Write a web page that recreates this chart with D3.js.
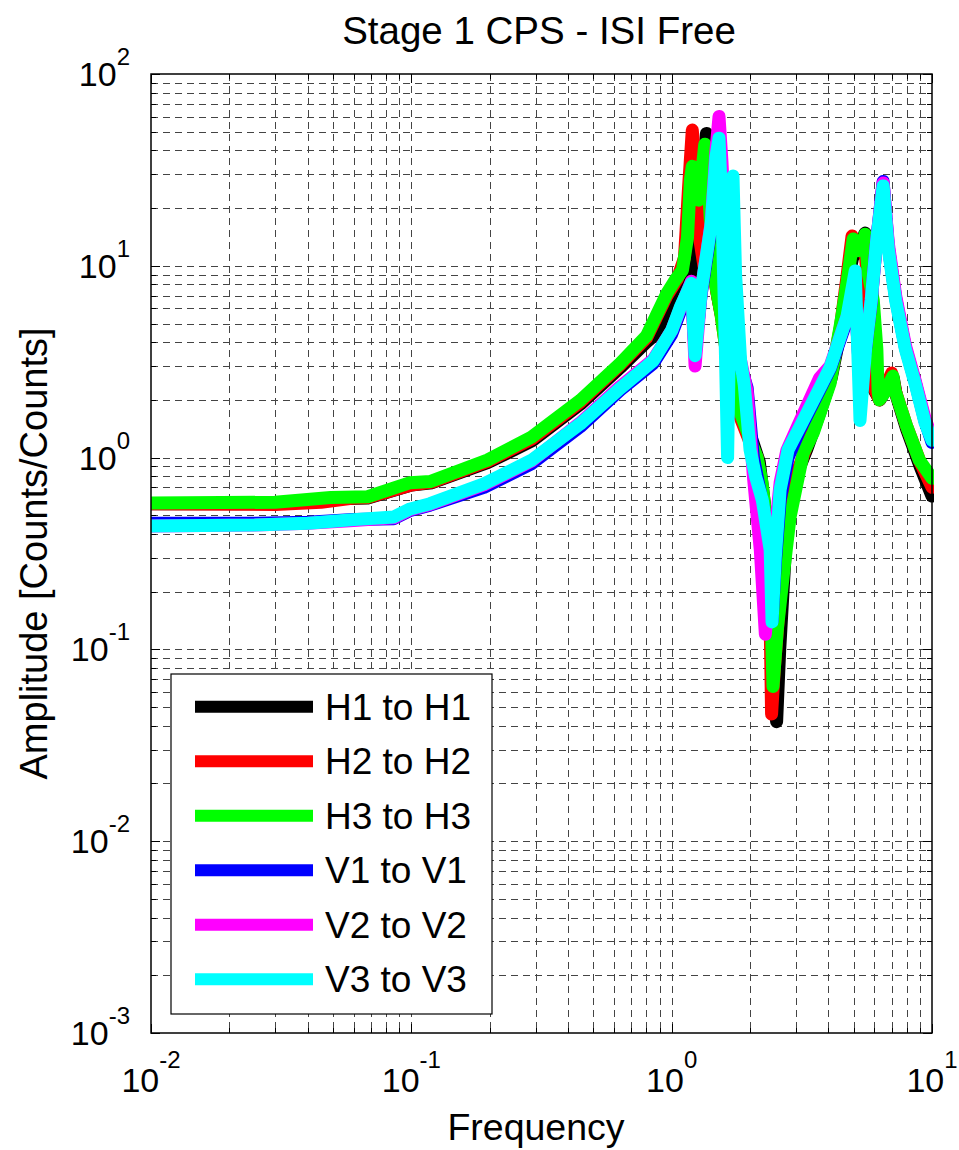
<!DOCTYPE html>
<html>
<meta charset="utf-8">
<head>
  <script src="https://d3js.org/d3.v7.min.js"></script>
  <style>

  body { margin: 0; background: #fff; }
  svg text { font-family: "Liberation Sans", Arial, Helvetica, sans-serif; fill: #000; }
  .grid line { stroke: #444; stroke-width: 1; stroke-dasharray: 7,5; shape-rendering: crispEdges; }
  .ticks line { stroke: #000; stroke-width: 1; shape-rendering: crispEdges; }
  .frame { fill: none; stroke: #000; stroke-width: 1.5; }
  .curve { fill: none; stroke-width: 13; stroke-linejoin: round; stroke-linecap: round; }
  .legend rect { fill: #fff; stroke: #000; stroke-width: 1.2; }

  </style>
</head>
<body>
<div id="chart"></div>

<script>

var title = "Stage 1 CPS - ISI Free",
    xLabel = "Frequency",
    yLabel = "Amplitude [Counts/Counts]";

// tick labels are 10^exp
var xTickExp = [-2, -1, 0, 1];
var yTickExp = [-3, -2, -1, 0, 1, 2];

var seriesNames = ["H1 to H1", "H2 to H2", "H3 to H3", "V1 to V1", "V2 to V2", "V3 to V3"];
var seriesColors = ["#000000", "#ff0000", "#00ff00", "#0000ff", "#ff00ff", "#00ffff"];

/* [frequency, amplitude] */
var h1 = [[0.01,0.575],[0.03,0.575],[0.05,0.61],[0.068,0.615],[0.1,0.72],[0.12,0.74],[0.196,0.94],[0.29,1.22],
  [0.446,1.9],[0.635,2.95],[0.8,4.0],[0.9,4.6],[0.98,6.3],[1.05,7.3],[1.15,8.3],[1.22,9.5],[1.28,16],[1.32,30],
  [1.36,49],[1.4,30],[1.45,10],[1.5,7],[1.6,4.5],[1.75,2.3],[1.9,1.6],[2.05,1.2],[2.17,0.95],[2.3,0.5],[2.42,0.18],
  [2.53,0.042],[2.6,0.1],[2.77,0.45],[3.0,0.8],[3.3,1.1],[3.7,1.7],[4.1,2.6],[4.45,4.5],[4.7,7.5],[4.95,11],
  [5.2,12],[5.53,14.8],[5.7,7],[5.8,3.5],[5.95,2.3],[6.3,2.0],[6.7,2.3],[7.1,2.6],[7.3,2.1],[8.0,1.4],[9.0,0.9],[10,0.63]];

var h2 = [[0.01,0.575],[0.03,0.57],[0.045,0.585],[0.06,0.615],[0.068,0.62],[0.1,0.72],[0.12,0.745],[0.196,0.955],
  [0.29,1.25],[0.446,1.95],[0.635,3.05],[0.8,4.2],[0.96,7.0],[1.05,8.5],[1.12,11],[1.16,25],[1.2,51],[1.24,30],
  [1.28,14],[1.33,10],[1.4,9],[1.47,8.1],[1.55,5.5],[1.65,3.0],[1.84,1.6],[2.0,1.2],[2.13,1.0],[2.22,0.72],
  [2.32,0.4],[2.38,0.2],[2.42,0.046],[2.48,0.08],[2.6,0.18],[2.77,0.45],[3.0,0.8],[3.3,1.15],[3.7,1.8],[4.1,2.7],
  [4.45,4.8],[4.7,8.5],[4.93,14.3],[5.1,12.5],[5.3,12.5],[5.5,13.5],[5.7,7],[5.85,3.8],[6.0,2.3],[6.28,2.0],
  [6.6,2.3],[7.0,2.76],[7.25,2.2],[8.0,1.45],[9.0,0.95],[10,0.7]];

var h3 = [[0.01,0.58],[0.03,0.585],[0.049,0.62],[0.068,0.625],[0.099,0.74],[0.118,0.75],[0.196,0.97],[0.29,1.28],
  [0.446,1.99],[0.635,3.1],[0.8,4.3],[0.96,7.2],[1.03,8.4],[1.1,9.5],[1.15,14],[1.18,28],[1.2,33],[1.23,24],
  [1.27,22],[1.31,32],[1.34,43],[1.38,28],[1.43,12],[1.47,8.2],[1.55,5.5],[1.65,3.0],[1.84,1.7],[2.0,1.25],
  [2.13,1.0],[2.22,0.75],[2.33,0.42],[2.4,0.2],[2.45,0.064],[2.55,0.13],[2.68,0.24],[2.85,0.49],[3.2,1.05],
  [3.5,1.35],[4.06,2.44],[4.5,5.4],[4.71,8.1],[4.98,13.8],[5.2,12],[5.35,12.5],[5.53,14.6],[5.7,9],[5.95,6.6],
  [6.14,3.67],[6.21,2.2],[6.28,2.0],[6.6,2.2],[7.08,2.66],[7.2,2.25],[8.0,1.45],[8.94,0.97],[10,0.78]];

var v1 = [[0.01,0.455],[0.025,0.455],[0.04,0.46],[0.06,0.475],[0.0855,0.48],[0.099,0.53],[0.118,0.565],[0.19,0.7],
  [0.29,0.93],[0.446,1.45],[0.635,2.25],[0.85,3.1],[1.0,4.4],[1.08,5.8],[1.19,7.6],[1.23,3.6],[1.3,7.2],[1.42,16],
  [1.48,35],[1.52,45],[1.56,20],[1.62,8],[1.7,4.8],[1.84,3.0],[1.95,2.3],[2.06,1.0],[2.22,0.6],[2.39,0.33],
  [2.43,0.14],[2.5,0.28],[2.61,0.6],[2.8,1.0],[3.11,1.4],[3.7,2.25],[4.06,2.9],[4.71,5.2],[5.07,7],[5.29,2.5],
  [5.56,3.7],[5.84,6.5],[6.13,13.5],[6.49,27.5],[6.8,12.5],[7.25,6.8],[7.9,3.75],[8.6,2.5],[9.4,1.55],[10,1.2]];

var v2 = [[0.01,0.44],[0.025,0.445],[0.04,0.455],[0.06,0.47],[0.0855,0.485],[0.099,0.535],[0.118,0.57],[0.19,0.72],
  [0.29,0.96],[0.446,1.52],[0.635,2.35],[0.85,3.25],[1.0,4.6],[1.08,6.0],[1.19,8.3],[1.23,3.0],[1.3,7.5],[1.42,17],
  [1.48,40],[1.52,60],[1.56,35],[1.62,12],[1.7,5.5],[1.84,3.2],[1.95,2.2],[2.06,0.8],[2.19,0.33],[2.29,0.12],
  [2.44,0.3],[2.61,0.74],[2.77,1.09],[3.11,1.55],[3.7,2.6],[4.06,3.0],[4.71,5.4],[5.07,7],[5.29,2.5],[5.56,3.8],
  [5.84,6.6],[6.13,13.5],[6.49,27],[6.8,13],[7.25,7],[7.9,3.85],[8.6,2.55],[9.4,1.6],[10,1.27]];

var v3 = [[0.01,0.44],[0.025,0.445],[0.04,0.455],[0.06,0.475],[0.0855,0.49],[0.099,0.54],[0.118,0.575],[0.19,0.73],
  [0.29,0.97],[0.446,1.5],[0.635,2.3],[0.85,3.2],[1.0,4.6],[1.08,6.1],[1.19,8.1],[1.23,3.4],[1.3,7.5],[1.42,16.7],
  [1.48,37],[1.52,46.3],[1.56,20],[1.6,5],[1.64,1.0],[1.68,8],[1.72,29.4],[1.76,9],[1.84,3.2],[1.9,2.4],[2.0,1.1],
  [2.1,0.8],[2.23,0.6],[2.39,0.33],[2.43,0.139],[2.5,0.3],[2.61,0.68],[2.8,1.1],[3.11,1.45],[3.7,2.3],[4.06,2.95],
  [4.4,4.1],[4.71,5.4],[5.07,9.4],[5.29,1.56],[5.56,3.7],[5.84,6.6],[6.13,13.5],[6.49,26.1],[6.8,12.1],[7.25,6.6],
  [7.9,3.67],[8.6,2.45],[9.4,1.52],[10,1.23]];

var series = [h1, h2, h3, v1, v2, v3];


var width = 959, height = 1150;
var plot = {left: 151, right: 932, top: 74, bottom: 1033};

var x = d3.scaleLog().domain([1e-2, 1e1]).range([plot.left, plot.right]);
var y = d3.scaleLog().domain([1e-3, 1e2]).range([plot.bottom, plot.top]);

var svg = d3.select("#chart").append("svg")
    .attr("width", width)
    .attr("height", height);

svg.append("defs").append("clipPath")
    .attr("id", "clip")
  .append("rect")
    .attr("x", plot.left)
    .attr("y", plot.top - 10)
    .attr("width", plot.right - plot.left + 2)
    .attr("height", plot.bottom - plot.top + 10);

function isMajor(v) { return Math.abs(Math.log10(v) - Math.round(Math.log10(v))) < 1e-9; }

var xTicks = x.ticks(), yTicks = y.ticks();

/* dashed grid at every major and minor tick */
var grid = svg.append("g").attr("class", "grid");
grid.selectAll(".gx").data(xTicks.filter(function(d) { return d > 1e-2 && d < 1e1; }))
  .enter().append("line")
    .attr("x1", function(d) { return Math.round(x(d)) + 0.5; })
    .attr("x2", function(d) { return Math.round(x(d)) + 0.5; })
    .attr("y1", plot.top)
    .attr("y2", plot.bottom);
grid.selectAll(".gy").data(yTicks.filter(function(d) { return d > 1e-3 && d < 1e2; }))
  .enter().append("line")
    .attr("x1", plot.left)
    .attr("x2", plot.right)
    .attr("y1", function(d) { return Math.round(y(d)) + 0.5; })
    .attr("y2", function(d) { return Math.round(y(d)) + 0.5; });

// inward ticks on all four sides
var ticks = svg.append("g").attr("class", "ticks");
xTicks.forEach(function(d) {
  var len = isMajor(d) ? 9 : 5, px = Math.round(x(d)) + 0.5;
  ticks.append("line").attr("x1", px).attr("x2", px).attr("y1", plot.bottom).attr("y2", plot.bottom - len);
  ticks.append("line").attr("x1", px).attr("x2", px).attr("y1", plot.top).attr("y2", plot.top + len);
});
yTicks.forEach(function(d) {
  var len = isMajor(d) ? 9 : 5, py = Math.round(y(d)) + 0.5;
  ticks.append("line").attr("x1", plot.left).attr("x2", plot.left + len).attr("y1", py).attr("y2", py);
  ticks.append("line").attr("x1", plot.right).attr("x2", plot.right - len).attr("y1", py).attr("y2", py);
});

var line = d3.line()
    .x(function(d) { return x(d[0]); })
    .y(function(d) { return y(d[1]); });

svg.append("g")
    .attr("clip-path", "url(#clip)")
  .selectAll("path").data(series)
  .enter().append("path")
    .attr("class", "curve")
    .attr("stroke", function(d, i) { return seriesColors[i]; })
    .attr("d", line);

svg.append("rect")
    .attr("class", "frame")
    .attr("x", plot.left)
    .attr("y", plot.top)
    .attr("width", plot.right - plot.left)
    .attr("height", plot.bottom - plot.top);

/* tick labels 10^n */
var xl = svg.append("g").selectAll("text").data(xTickExp)
  .enter().append("text")
    .attr("x", function(d) { return x(Math.pow(10, d)); })
    .attr("y", 1092)
    .attr("text-anchor", "middle")
    .style("font-size", "34px")
    .text("10");
xl.append("tspan")
    .attr("dy", -24)
    .style("font-size", "24px")
    .text(function(d) { return d; });

var yl = svg.append("g").selectAll("text").data(yTickExp)
  .enter().append("text")
    .attr("x", 130)
    .attr("y", function(d) { return y(Math.pow(10, d)) + 12; })
    .attr("text-anchor", "end")
    .style("font-size", "34px")
    .text("10");
yl.append("tspan")
    .attr("dy", -21)
    .style("font-size", "24px")
    .text(function(d) { return d; });

svg.append("text")
    .attr("x", 539)
    .attr("y", 44)
    .attr("text-anchor", "middle")
    .style("font-size", "38.5px")
    .text(title);

svg.append("text")
    .attr("x", 536)
    .attr("y", 1140)
    .attr("text-anchor", "middle")
    .style("font-size", "37.5px")
    .text(xLabel);

svg.append("text")
    .attr("transform", "translate(47," + (plot.top + plot.bottom) / 2 + ") rotate(-90)")
    .attr("text-anchor", "middle")
    .style("font-size", "38px")
    .text(yLabel);

/* legend */
var legend = svg.append("g").attr("class", "legend");
legend.append("rect")
    .attr("x", 171)
    .attr("y", 674)
    .attr("width", 321)
    .attr("height", 340);

var item = legend.selectAll(".item").data(seriesNames)
  .enter().append("g")
    .attr("transform", function(d, i) { return "translate(0," + (706.7 + i * 54.5) + ")"; });

item.append("line")
    .attr("x1", 195)
    .attr("x2", 313)
    .attr("stroke-width", 12)
    .attr("stroke", function(d, i) { return seriesColors[i]; });

item.append("text")
    .attr("x", 325)
    .attr("y", 13)
    .style("font-size", "37px")
    .text(function(d) { return d; });

</script>
</body>
</html>
